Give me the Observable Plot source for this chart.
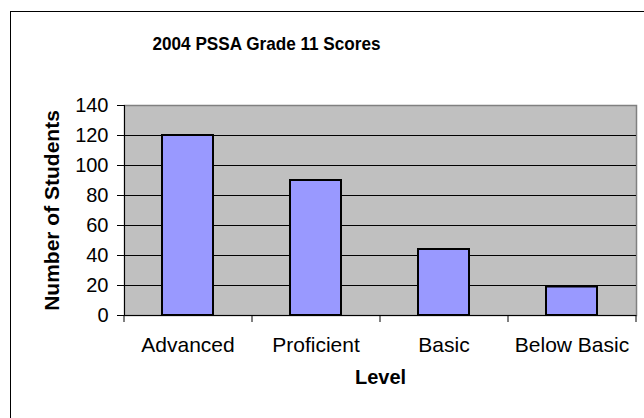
<!DOCTYPE html>
<html>
<head>
<meta charset="utf-8">
<script src="https://cdn.jsdelivr.net/npm/d3@7"></script>
<script src="https://cdn.jsdelivr.net/npm/@observablehq/plot@0.6"></script>
<style>
  html, body { margin: 0; padding: 0; background: #fff; }
  #wrap { position: relative; width: 644px; height: 418px; overflow: hidden; background: #fff; }
  #border { position: absolute; left: 10px; top: 11px; width: 700px; height: 500px; border: 1.5px solid #000; box-sizing: border-box; }
  #chart { position: absolute; left: 0; top: 0; }
</style>
</head>
<body>
<div id="wrap"><div id="border"></div><div id="chart"></div></div>
<script>
const levels = ["Advanced", "Proficient", "Basic", "Below Basic"];
const students = [120, 90, 44, 19];
const yTicks = [0, 20, 40, 60, 80, 100, 120, 140];
const gridValues = [20, 40, 60, 80, 100, 120];
const title = "2004 PSSA Grade 11 Scores";
const xTitle = "Level";
const yTitle = "Number of Students";

const data = levels.map((l, i) => ({level: l, count: students[i]}));
const font = "Arial, 'Liberation Sans', sans-serif";

const chart = Plot.plot({
  width: 644,
  height: 418,
  marginLeft: 124,
  marginRight: 8,
  marginTop: 105,
  marginBottom: 103,
  style: {fontFamily: font, background: "transparent", color: "#000"},
  x: {domain: levels, paddingInner: 0.6, paddingOuter: 0.3, label: null},
  y: {domain: [0, 140], label: null},
  marks: [
    Plot.frame({fill: "#c0c0c0", stroke: "#808080", strokeWidth: 1.5}),
    Plot.ruleY(gridValues, {stroke: "#000", strokeWidth: 1}),
    Plot.barY(data, {x: "level", y: "count", fill: "#9999ff", stroke: "#000", strokeWidth: 2}),
    Plot.ruleY([0], {stroke: "#000", strokeWidth: 1}),
    Plot.frame({anchor: "left", stroke: "#000", strokeWidth: 1}),
    Plot.axisY({ticks: yTicks, tickSize: 7, tickPadding: 9, fontSize: 20, label: null, tickFormat: d => String(d)}),
    Plot.axisX({tickSize: 7, dx: 64, text: null, label: null}),
    Plot.axisX({ticks: [levels[0]], tickSize: 7, dx: -64, text: null, label: null}),
    Plot.axisX({tickSize: 0, tickPadding: 22, fontSize: 21, label: null}),
    Plot.text([title], {text: d => d, frameAnchor: "top", dx: -114, dy: -69, fontSize: 19, fontWeight: "bold"}),
    Plot.text([xTitle], {text: d => d, frameAnchor: "bottom", dy: 68, fontSize: 20, fontWeight: "bold"}),
    Plot.text([yTitle], {text: d => d, frameAnchor: "left", textAnchor: "middle", dx: -72, rotate: -90, fontSize: 21, fontWeight: "bold"})
  ]
});
d3.select(chart).selectAll("text").filter(function() { return this.textContent === title; })
  .attr("textLength", 228).attr("lengthAdjust", "spacingAndGlyphs");
document.getElementById("chart").appendChild(chart);
</script>
</body>
</html>
